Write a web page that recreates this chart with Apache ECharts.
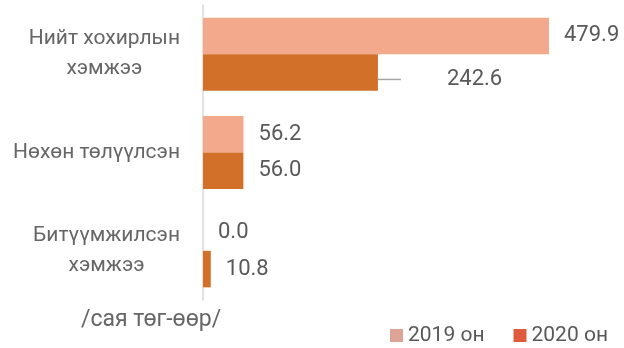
<!DOCTYPE html>
<html>
<head>
<meta charset="utf-8">
<script src="https://cdn.jsdelivr.net/npm/echarts@6/dist/echarts.min.js"></script>
<style>
  html, body { margin: 0; padding: 0; background: #ffffff; }
  #chart { width: 624px; height: 348px; }
</style>
</head>
<body>
<div id="chart"></div>
<script>
// Categories (top to bottom)
const categories = ['Нийт хохирлын\nхэмжээ', 'Нөхөн төлүүлсэн', 'Битүүмжилсэн\nхэмжээ'];
// Values, million tugrik
const values2019 = [479.9, 56.2, 0.0];
const values2020 = [242.6, 56.0, 10.8];
const seriesNames = ['2019 он', '2020 он'];
const unitNote = '/сая төг-өөр/';

const FONT = 'Roboto, "Noto Sans", sans-serif';
const TEXT = '#595959';
const BAR_2019 = '#f3a98b';
const BAR_2020 = '#d26f28';

const chart = echarts.init(document.getElementById('chart'), null, { renderer: 'canvas' });

const valueLabel = {
  show: true,
  position: 'right',
  distance: 15,
  color: TEXT,
  fontFamily: FONT,
  fontSize: 22,
  formatter: p => Number(p.value).toFixed(1)
};

// The largest 2020 value gets its label pulled out, joined back by a short leader line
const data2020 = values2020.map((v, i) => i === 0 ? {
  value: v,
  label: {
    distance: 23,
    formatter: p => '{gap| }{v|' + Number(p.value).toFixed(1) + '}',
    rich: {
      gap: { width: 46, fontSize: 22, fontFamily: FONT },
      v: { fontSize: 22, fontFamily: FONT, color: TEXT }
    }
  },
  labelLine: { show: true, length2: 10, lineStyle: { color: '#a6a6a6', width: 1.5 } }
} : v);

chart.setOption({
  animation: false,
  grid: { left: 203, top: 5, bottom: 48, right: 60.5 },
  xAxis: {
    type: 'value', min: 0, max: 500, show: false
  },
  yAxis: {
    type: 'category',
    inverse: true,
    data: categories,
    axisLine: { show: true, lineStyle: { color: '#d9d9d9', width: 1.5 } },
    axisTick: { show: false },
    axisLabel: {
      margin: 23,
      color: '#666666',
      fontFamily: FONT,
      fontSize: 21,
      formatter: v => v.split('\n').map(s => '{c|' + s + '}').join('\n'),
      rich: { c: { align: 'center', lineHeight: 30, fontSize: 21, fontFamily: FONT, color: '#666666' } }
    }
  },
  legend: {
    right: 11,
    top: 320,
    itemWidth: 13,
    itemHeight: 13,
    itemGap: 29,
    icon: 'rect',
    textStyle: { color: TEXT, fontFamily: FONT, fontSize: 21 },
    data: [
      { name: seriesNames[0], itemStyle: { color: '#dca396' } },
      { name: seriesNames[1], itemStyle: { color: '#e05b3e' } }
    ]
  },
  graphic: [{
    type: 'text', left: 81, top: 309,
    style: { text: unitNote, fill: '#666666', font: '23px ' + FONT }
  }],
  series: [
    {
      name: seriesNames[0], type: 'bar', data: values2019,
      itemStyle: { color: BAR_2019 },
      barGap: '0%', barCategoryGap: '25.7%',
      label: valueLabel
    },
    {
      name: seriesNames[1], type: 'bar', data: data2020,
      itemStyle: { color: BAR_2020 },
      barGap: '0%', barCategoryGap: '25.7%',
      label: valueLabel,
      labelLayout: p => p.dataIndex === 0 ? { dy: 7 } : {}
    }
  ]
});
</script>
</body>
</html>
